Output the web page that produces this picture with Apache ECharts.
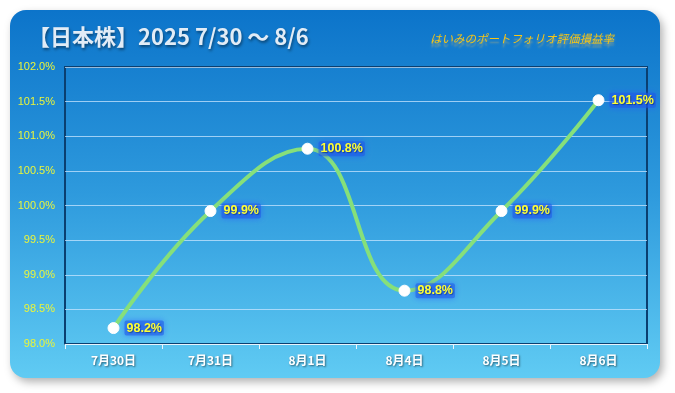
<!DOCTYPE html>
<html><head><meta charset="utf-8">
<script src="https://cdn.jsdelivr.net/npm/echarts@6/dist/echarts.min.js"></script>
<style>html,body{margin:0;padding:0;background:#fff;}#c{width:675px;height:393px;}</style>
</head><body><div id="c"></div>
<script>
const categories = ['7月30日','7月31日','8月1日','8月4日','8月5日','8月6日'];
const values = [98.23, 99.92, 100.82, 98.77, 99.92, 101.52];
const labels = ['98.2%','99.9%','100.8%','98.8%','99.9%','101.5%'];
const yTicks = [98.0, 98.5, 99.0, 99.5, 100.0, 100.5, 101.0, 101.5, 102.0];

const chart = echarts.init(document.getElementById('c'), null, {renderer:'canvas'});
chart.setOption({
  animation:false,
  graphic:[
    {type:'rect', z:-10, shape:{x:10,y:10,width:650,height:368,r:16},
     style:{fill:new echarts.graphic.LinearGradient(0,0,0,1,[{offset:0,color:'#0C74CA'},{offset:0.5,color:'#2E9ADD'},{offset:1,color:'#60CBF3'}]),
       shadowBlur:8, shadowOffsetX:3, shadowOffsetY:4, shadowColor:'rgba(0,0,0,0.3)'}},
    {type:'text', left:28, top:26, z:10,
     style:{text:'【日本株】2025 7/30 〜 8/6', fill:'#E2ECF6', font:'bold 22px "Noto Sans CJK JP", sans-serif',
       textShadowColor:'rgba(0,0,0,0.45)', textShadowBlur:3, textShadowOffsetX:1, textShadowOffsetY:2}},
    {type:'text', left:430, top:33, z:10,
     style:{text:'はいみのポートフォリオ評価損益率', fill:'#F5C518', font:'italic 11.5px "Noto Sans CJK JP", sans-serif',
       textShadowColor:'rgba(255,200,80,0.45)', textShadowBlur:2, textShadowOffsetY:4}}
  ],
  grid:{left:65, right:28, top:67, bottom:49, show:true, borderColor:'#0A3F70', borderWidth:2, backgroundColor:'transparent'},
  xAxis:{type:'category', data:categories, boundaryGap:true,
    axisLine:{show:true, lineStyle:{color:'#E8F4FC', width:1}},
    axisTick:{show:true, alignWithLabel:false, length:5, lineStyle:{color:'#E8F4FC'}},
    axisLabel:{color:'#FFFFFF', fontSize:12, fontWeight:'bold', margin:10, fontFamily:'"Noto Sans CJK JP", sans-serif',
      textShadowColor:'rgba(0,0,0,0.5)', textShadowBlur:2, textShadowOffsetX:1, textShadowOffsetY:1}},
  yAxis:{type:'value', min:98, max:102, interval:0.5,
    axisLine:{show:false}, axisTick:{show:false},
    splitLine:{show:true, lineStyle:{color:'rgba(200,230,255,0.75)', width:1}},
    axisLabel:{color:'#EAF53A', fontSize:11, margin:10, fontFamily:'"Liberation Sans", sans-serif',
      formatter:v=>{const t=yTicks.find(x=>Math.abs(x-v)<1e-6); return (t!==undefined?t:v).toFixed(1)+'%';}}},
  series:[{
    type:'line', data:values, smooth:0.45,
    lineStyle:{color:'#86E07A', width:4},
    symbol:'circle', symbolSize:11,
    itemStyle:{color:'#FFFFFF', borderColor:'#FFFFFF'},
    label:{show:true, position:'right', distance:5,
      formatter:p=>labels[p.dataIndex],
      color:'#FFFF33', fontWeight:'bold', fontSize:12.5, fontFamily:'"Liberation Sans", sans-serif',
      backgroundColor:'rgba(30,90,230,0.55)', padding:[1,2], borderRadius:2,
      shadowColor:'rgba(40,80,255,0.9)', shadowBlur:6,
      textShadowColor:'rgba(0,0,0,0.35)', textShadowBlur:1, textShadowOffsetX:1, textShadowOffsetY:1}
  }]
});
</script></body></html>
